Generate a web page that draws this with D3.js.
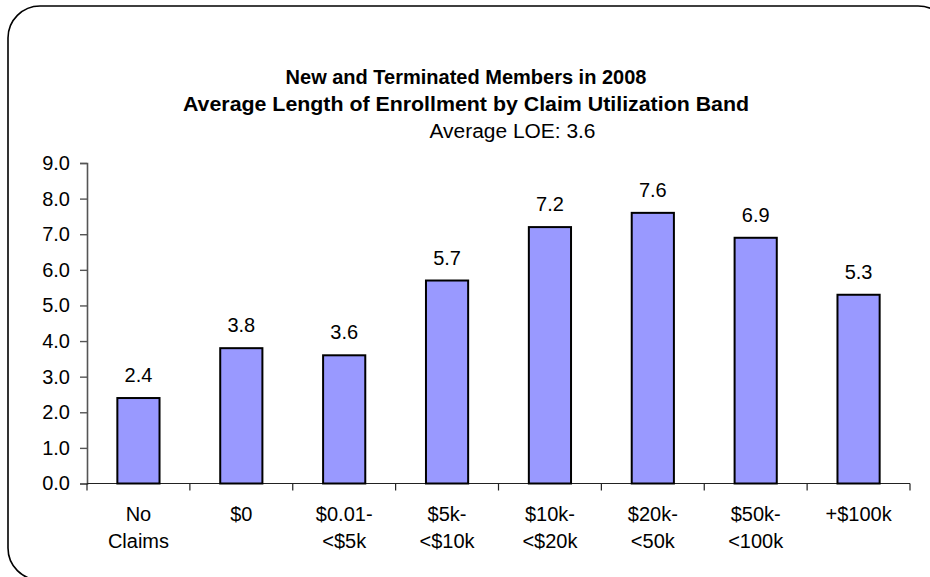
<!DOCTYPE html>
<html>
<head>
<meta charset="utf-8">
<script src="https://cdn.jsdelivr.net/npm/d3@7"></script>
<style>
  html, body { margin: 0; padding: 0; background: #fff; }
  svg { display: block; font-family: "Liberation Sans", Arial, sans-serif; }
</style>
</head>
<body>
<svg id="chart" width="930" height="577"></svg>
<script>
// Claim utilization bands and average length of enrollment (years)
const categories = [
  ["No", "Claims"],
  ["$0"],
  ["$0.01-", "<$5k"],
  ["$5k-", "<$10k"],
  ["$10k-", "<$20k"],
  ["$20k-", "<50k"],
  ["$50k-", "<100k"],
  ["+$100k"]
];
const values = [2.4, 3.8, 3.6, 5.7, 7.2, 7.6, 6.9, 5.3];
const yTicks = [0, 1, 2, 3, 4, 5, 6, 7, 8, 9];
const titleLines = [
  "New and Terminated Members in 2008",
  "Average Length of Enrollment by Claim Utilization Band"
];
const subtitle = "Average LOE: 3.6";

const svg = d3.select("#chart");
const plot = { left: 87, right: 910, top: 163, bottom: 483.5 };
const FS = 20;

// Rounded frame around the whole chart
svg.append("rect")
  .attr("x", 8).attr("y", 6)
  .attr("width", 942).attr("height", 574)
  .attr("rx", 32).attr("ry", 32)
  .attr("fill", "#fff")
  .attr("stroke", "#000")
  .attr("stroke-width", 1.6);

const x = d3.scaleBand()
  .domain(d3.range(categories.length))
  .range([plot.left, plot.right])
  .paddingInner(0.59)
  .paddingOuter(0.295);

const y = d3.scaleLinear()
  .domain([0, 9])
  .range([plot.bottom, plot.top]);

// Titles (second line is set a little wider)
const titleWidths = [null, 566];
svg.append("g")
  .selectAll("text")
  .data(titleLines)
  .join("text")
  .attr("x", 466)
  .attr("y", (d, i) => 84 + i * 27)
  .attr("text-anchor", "middle")
  .attr("font-weight", "bold")
  .attr("font-size", FS)
  .each(function (d, i) {
    if (titleWidths[i]) {
      d3.select(this)
        .attr("textLength", titleWidths[i])
        .attr("lengthAdjust", "spacingAndGlyphs");
    }
  })
  .text(d => d);

svg.append("text")
  .attr("x", 512.5)
  .attr("y", 138)
  .attr("text-anchor", "middle")
  .attr("font-size", FS)
  .attr("textLength", 166)
  .attr("lengthAdjust", "spacingAndGlyphs")
  .text(subtitle);

// Y axis
const yAxis = svg.append("g")
  .attr("transform", `translate(${plot.left},0)`)
  .call(d3.axisLeft(y).tickValues(yTicks).tickFormat(d3.format(".1f")).tickSize(7).tickPadding(10));
yAxis.select(".domain").attr("stroke", "#555").attr("stroke-width", 1.6);
yAxis.selectAll(".tick line").attr("stroke", "#555").attr("stroke-width", 1.4);
yAxis.selectAll(".tick text")
  .attr("font-size", FS)
  .attr("fill", "#000")
  .attr("font-family", "'Liberation Sans', Arial, sans-serif");

// X axis: baseline with ticks at the category boundaries
const xg = svg.append("g");
xg.append("line")
  .attr("x1", plot.left).attr("x2", plot.right)
  .attr("y1", plot.bottom).attr("y2", plot.bottom)
  .attr("stroke", "#222").attr("stroke-width", 1.2);
const step = x.step();
const boundaries = d3.range(categories.length + 1).map(i => plot.left + i * step);
xg.selectAll("line.xt")
  .data(boundaries)
  .join("line")
  .attr("class", "xt")
  .attr("x1", d => d).attr("x2", d => d)
  .attr("y1", plot.bottom).attr("y2", plot.bottom + 7)
  .attr("stroke", "#222").attr("stroke-width", 1.2);

// Category labels (one or two lines)
const catG = svg.append("g")
  .selectAll("text")
  .data(categories)
  .join("text")
  .attr("text-anchor", "middle")
  .attr("font-size", FS)
  .attr("fill", "#000");
catG.selectAll("tspan")
  .data((d, i) => d.map(line => ({ line, i })))
  .join("tspan")
  .attr("x", d => x(d.i) + x.bandwidth() / 2)
  .attr("y", (d, j) => 521 + j * 27)
  .text(d => d.line);

// Bars
svg.append("g")
  .selectAll("rect")
  .data(values)
  .join("rect")
  .attr("x", (d, i) => x(i))
  .attr("y", d => y(d))
  .attr("width", x.bandwidth())
  .attr("height", d => y(0) - y(d))
  .attr("fill", "#9999ff")
  .attr("stroke", "#000")
  .attr("stroke-width", 2);

// Value labels above bars
svg.append("g")
  .selectAll("text")
  .data(values)
  .join("text")
  .attr("x", (d, i) => x(i) + x.bandwidth() / 2)
  .attr("y", d => y(d) - 16)
  .attr("text-anchor", "middle")
  .attr("font-size", FS)
  .attr("fill", "#000")
  .text(d => d3.format(".1f")(d));
</script>
</body>
</html>
